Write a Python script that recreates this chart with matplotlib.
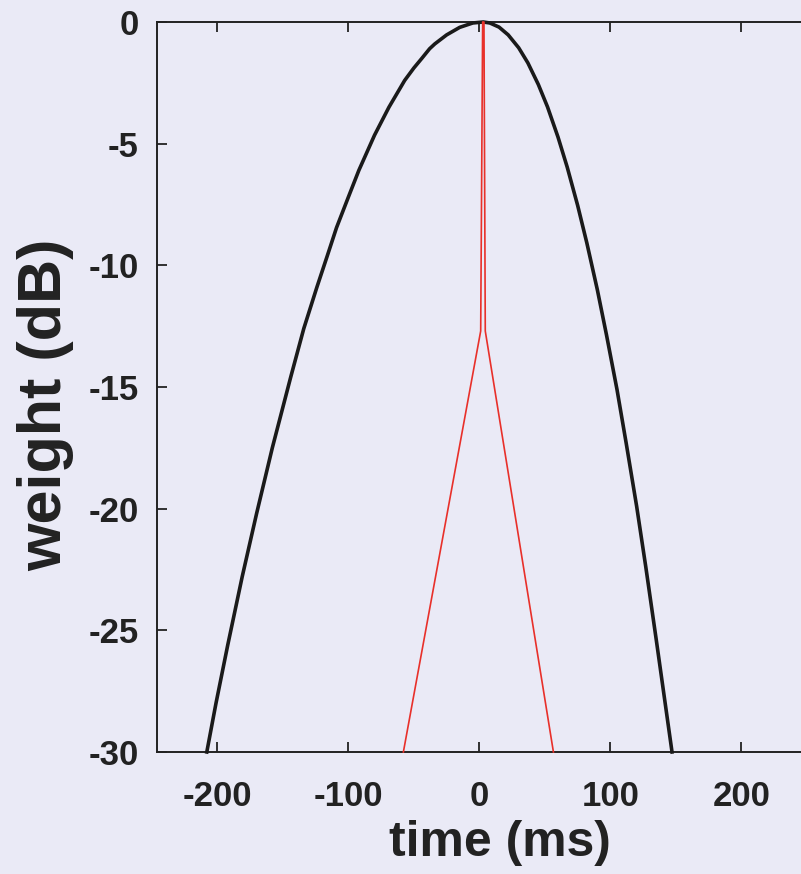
import matplotlib
matplotlib.use("Agg")
import matplotlib.pyplot as plt

# values
# black curve: broad window (time in ms, weight in dB)
broad_t = [-208, -201, -192, -181, -170, -158, -144, -134, -124, -116, -109, -100, -92, -80,
           -69, -57, -50, -44, -38, -34, -25, -15, -5, 3, 8, 15, 22, 30, 37, 45, 52, 60,
           67, 75, 82, 90, 97, 105, 112, 120, 127, 135, 141, 147]
broad_db = [-30.0, -28.0, -25.6, -22.8, -20.2, -17.5, -14.6, -12.6, -10.9, -9.6, -8.45, -7.2,
            -6.1, -4.65, -3.5, -2.4, -1.89, -1.5, -1.1, -0.9, -0.53, -0.22, -0.04, 0.0,
            -0.04, -0.21, -0.53, -1.06, -1.68, -2.57, -3.49, -4.73, -5.96, -7.54, -9.08,
            -11.0, -12.86, -15.1, -17.3, -19.9, -22.4, -25.4, -27.7, -30.0]

# red curve: narrow window
narrow_t = [-58, 1, 2.5, 3.5, 4.5, 56.5]
narrow_db = [-30.0, -12.7, 0.0, 0.0, -12.7, -30.0]

xticks = [-200, -100, 0, 100, 200]
yticks = [0, -5, -10, -15, -20, -25, -30]

bg = "#eaeaf6"
ink = "#222222"
plt.rcParams["font.family"] = ["Liberation Sans", "DejaVu Sans"]
plt.rcParams["font.weight"] = "bold"

fig = plt.figure(figsize=(8.01, 8.74), dpi=100, facecolor=bg)
ax = fig.add_axes([157 / 801, 122 / 874, 650 / 801, 730 / 874], facecolor=bg)

ax.plot(broad_t, broad_db, color="#1a1a1a", linewidth=2.6, clip_on=False, zorder=3)
ax.plot(narrow_t, narrow_db, color="#e8302a", linewidth=1.2, clip_on=False, zorder=4)

ax.set_xlim(-246, 250)
ax.set_ylim(-30, 0)
ax.set_xticks(xticks)
ax.set_yticks(yticks)
ax.set_xticklabels([str(v) for v in xticks])
ax.set_yticklabels([str(v) for v in yticks])

for s in ax.spines.values():
    s.set_linewidth(1.4)
    s.set_color(ink)

ax.tick_params(axis="both", direction="in", length=7, width=1.3, color=ink,
               labelsize=25, labelcolor=ink)
ax.tick_params(axis="x", top=True, pad=20)
ax.tick_params(axis="y", right=False, pad=13)

# axis titles placed where they sit in the scan
fig.text(500 / 801, 1 - 843 / 874, "time (ms)", fontsize=36, fontweight="bold",
         color=ink, ha="center", va="center")
fig.text(46 / 801, 1 - 405 / 874, "weight (dB)", fontsize=44, fontweight="bold",
         color=ink, ha="center", va="center", rotation=90)

fig.savefig("out.png", dpi=100, facecolor=bg)
